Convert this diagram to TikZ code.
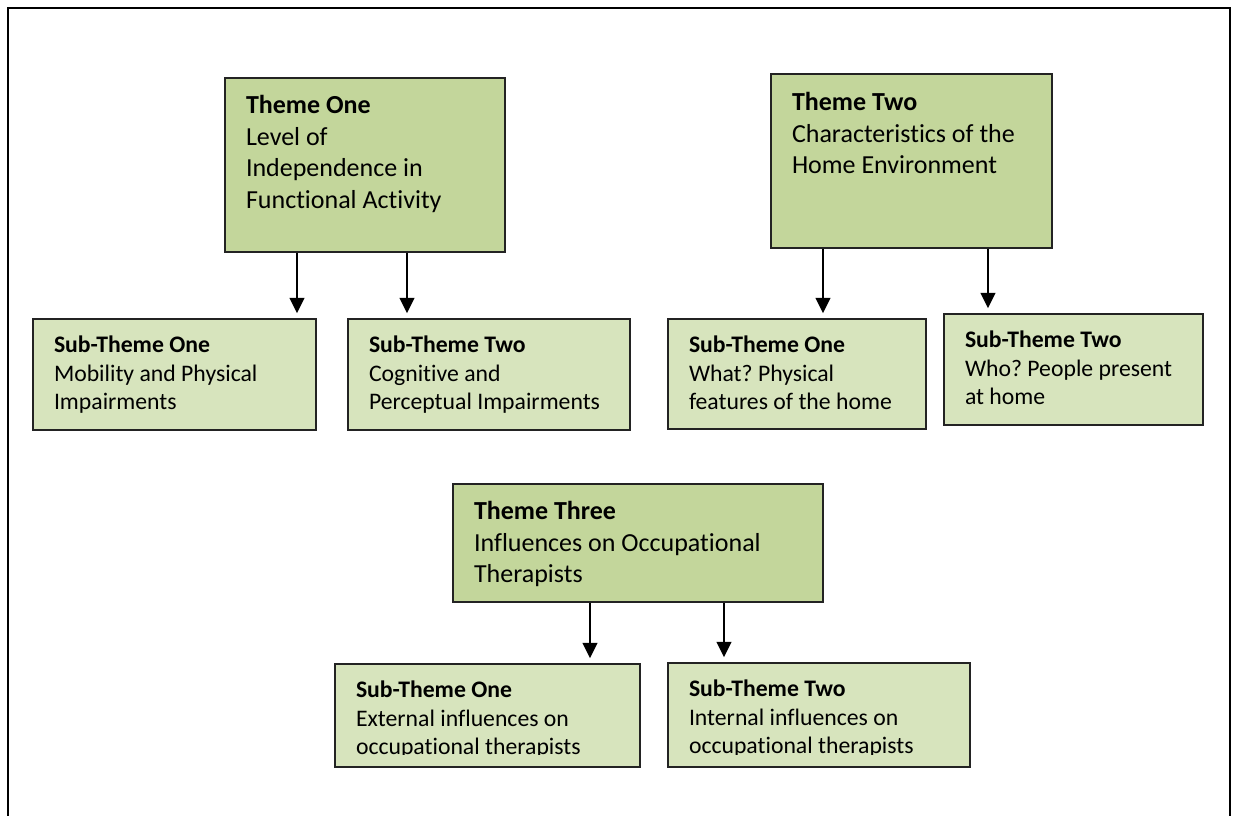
\documentclass[tikz,border=0pt]{standalone}
\usepackage{fontspec}
\setmainfont{Carlito}[Ligatures=NoCommon]
\usepackage{xcolor}
\usetikzlibrary{arrows.meta}
\definecolor{themefill}{RGB}{195,214,155}
\definecolor{subfill}{RGB}{215,228,189}
\definecolor{boxline}{RGB}{35,35,35}
\frenchspacing

\begin{document}
\begin{tikzpicture}[
		themebox/.style={draw=boxline, fill=themefill, line width=0.75pt, inner xsep=0.42cm, inner ysep=0.1cm, font=\fontsize{14.8}{17.9}\selectfont},
		subbox/.style={draw=boxline, fill=subfill, line width=0.75pt, inner xsep=0.42cm, inner ysep=0.1cm, font=\fontsize{13.5}{16.2}\selectfont},
		themearrow/.style={-{Triangle[width=0.29cm,length=0.31cm]}, line width=0.05cm, shorten >=0.1cm}
	]

	\clip (0,0) rectangle (24.72,16.32);
	\draw[line width=0.8pt] (0.16,-1) rectangle (24.6,16.16);

	% theme one
	\node[themebox] (t1) at (7.30,13.02) {
		\begin{minipage}[t][3.28cm][t]{4.76cm}
			\rule{0pt}{0.62cm}\textbf{Theme One}\\
			Level of\\
			Independence in\\
			Functional Activity
		\end{minipage}
	};

	\node[subbox] (a1) at (3.49,8.83) {
		\begin{minipage}[t][2.02cm][t]{4.82cm}
			\rule{0pt}{0.58cm}\textbf{Sub-Theme One}\\
			Mobility and Physical\\
			Impairments
		\end{minipage}
	};

	\node[subbox] (a2) at (9.78,8.83) {
		\begin{minipage}[t][2.02cm][t]{4.80cm}
			\rule{0pt}{0.58cm}\textbf{Sub-Theme Two}\\
			Cognitive and\\
			Perceptual Impairments
		\end{minipage}
	};

	\draw[themearrow] (t1.south -| 5.94,0) -- (a1.north -| 5.94,0);
	\draw[themearrow] (t1.south -| 8.14,0) -- (a2.north -| 8.14,0);

	% theme two
	\node[themebox] (t2) at (18.23,13.10) {
		\begin{minipage}[t][3.28cm][t]{4.78cm}
			\rule{0pt}{0.64cm}\textbf{Theme Two}\\
			Characteristics of the\\
			Home Environment
		\end{minipage}
	};

	\node[subbox] (b1) at (15.94,8.84) {
		\begin{minipage}[t][2.00cm][t]{4.32cm}
			\rule{0pt}{0.58cm}\textbf{Sub-Theme One}\\
			What? Physical\\
			features of the home
		\end{minipage}
	};

	\node[subbox] (b2) at (21.47,8.93) {
		\begin{minipage}[t][2.02cm][t]{4.34cm}
			\rule{0pt}{0.58cm}\textbf{Sub-Theme Two}\\
			Who? People present\\
			at home
		\end{minipage}
	};

	\draw[themearrow] (t2.south -| 16.46,0) -- (b1.north -| 16.46,0);
	\draw[themearrow] (t2.south -| 19.76,0) -- (b2.north -| 19.76,0);

	% theme three
	\node[themebox] (t3) at (12.76,5.46) {
		\begin{minipage}[t][2.16cm][t]{6.56cm}
			\rule{0pt}{0.62cm}\textbf{Theme Three}\\
			Influences on Occupational\\
			Therapists
		\end{minipage}
	};

	\node[subbox] (c1) at (9.75,2.01) {
		\begin{minipage}[t][1.86cm][t]{5.26cm}
			\rule{0pt}{0.58cm}\textbf{Sub-Theme One}\\
			External influences on\\
			occupational therapists
		\end{minipage}
	};

	\node[subbox] (c2) at (16.38,2.02) {
		\begin{minipage}[t][1.88cm][t]{5.20cm}
			\rule{0pt}{0.58cm}\textbf{Sub-Theme Two}\\
			Internal influences on\\
			occupational therapists
		\end{minipage}
	};

	% last lines are cut at the foot of the boxes
	\fill[subfill] ([xshift=0.03cm,yshift=0.03cm]c1.south west) rectangle ([xshift=-0.03cm,yshift=0.25cm]c1.south east);
	\fill[subfill] ([xshift=0.03cm,yshift=0.03cm]c2.south west) rectangle ([xshift=-0.03cm,yshift=0.25cm]c2.south east);

	\draw[themearrow] (t3.south -| 11.80,0) -- (c1.north -| 11.80,0);
	\draw[themearrow] (t3.south -| 14.48,0) -- (c2.north -| 14.48,0);

\end{tikzpicture}
\end{document}
